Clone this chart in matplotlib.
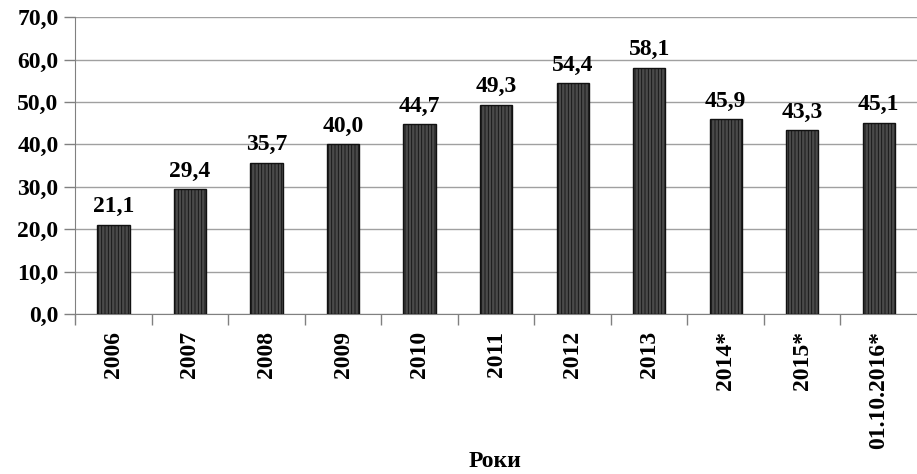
import matplotlib
matplotlib.use("Agg")
import matplotlib.pyplot as plt

categories = ["2006", "2007", "2008", "2009", "2010", "2011", "2012", "2013", "2014*", "2015*", "01.10.2016*"]
values = [21.1, 29.4, 35.7, 40.0, 44.7, 49.3, 54.4, 58.1, 45.9, 43.3, 45.1]
yticks = [0, 10, 20, 30, 40, 50, 60, 70]

plt.rcParams['font.family'] = ['Liberation Serif', 'DejaVu Serif']
plt.rcParams['font.weight'] = 'bold'
plt.rcParams['hatch.color'] = '#111111'
plt.rcParams['hatch.linewidth'] = 0.6

FS = 17

fig = plt.figure(figsize=(9.17, 4.74), dpi=100)
ax = fig.add_axes([0.082, 0.337, 0.918, 0.627])

x = list(range(len(categories)))
ax.bar(x, values, width=0.42, color='#4a4a4a', edgecolor='#111111', linewidth=1.0, hatch='|||||', zorder=3)

for xi, v in zip(x, values):
    ax.text(xi, v + 1.8, f"{v:.1f}".replace('.', ','), ha='center', va='bottom', fontsize=FS, fontweight='bold')

ax.set_xlim(-0.5, len(categories) - 0.5)
ax.set_ylim(0, 70)
ax.set_yticks(yticks)
ax.set_yticklabels([f"{t:.1f}".replace('.', ',') for t in yticks], fontsize=FS, fontweight='bold')
ax.yaxis.grid(True, color='#a0a0a0', linewidth=1.0, zorder=0)
ax.set_axisbelow(True)

ax.set_xticks(x)
ax.set_xticklabels(categories, rotation=90, fontsize=FS, fontweight='bold')
ax.tick_params(axis='x', length=0, pad=12)
ax.set_xticks([i + 0.5 for i in range(len(categories) - 1)] + [-0.5], minor=True)
ax.tick_params(axis='x', which='minor', length=8, color='#808080', width=1)
ax.tick_params(axis='y', length=8, color='#808080', width=1, pad=4)

for s in ['top', 'right']:
    ax.spines[s].set_visible(False)
ax.spines['left'].set_color('#808080')
ax.spines['bottom'].set_color('#808080')

fig.text(0.54, 0.005, "Роки", ha='center', va='bottom', fontsize=FS, fontweight='bold')

fig.savefig("out.png", dpi=100)
